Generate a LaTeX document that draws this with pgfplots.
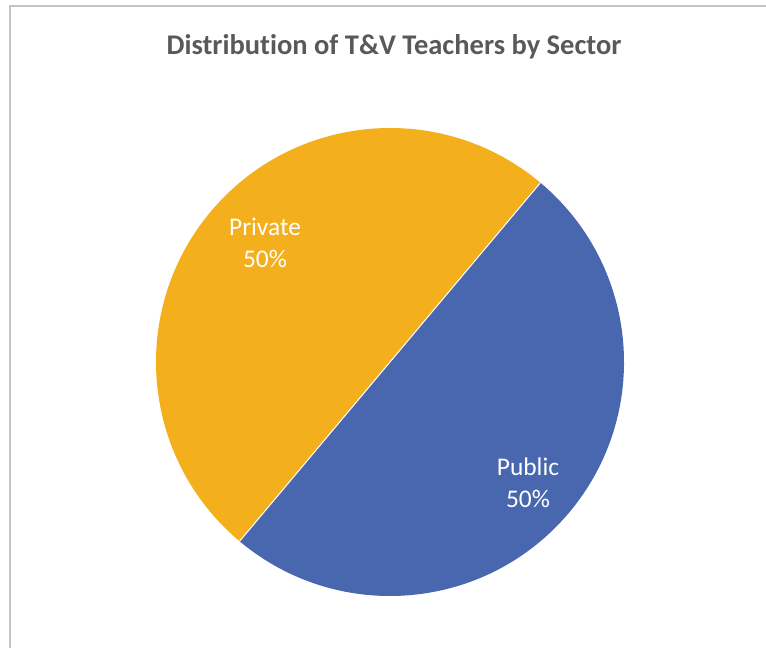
\documentclass[border=0pt]{standalone}
\usepackage{pgfplots}
\usepackage{pgfplotstable}
\usepackage{fontspec}
\pgfplotsset{compat=1.18}
\setmainfont[Ligatures=NoCommon]{Carlito}

\definecolor{privcol}{HTML}{F4AF1C}
\definecolor{pubcol}{HTML}{4867AE}
\definecolor{titlegray}{HTML}{595959}
\definecolor{framegray}{HTML}{C4C4C4}

% sector share (percent)
\pgfplotstableread{
label   value
Private 50
Public  50
}\sectors

\begin{document}
\begin{tikzpicture}
\pgfplotstablegetelem{0}{value}\of\sectors
\pgfmathsetmacro{\vpriv}{\pgfplotsretval}
\pgfplotstablegetelem{1}{value}\of\sectors
\pgfmathsetmacro{\vpub}{\pgfplotsretval}
\pgfmathsetmacro{\astart}{50}
\pgfmathsetmacro{\amid}{\astart+360*(\vpriv/(\vpriv+\vpub))}
\pgfmathsetmacro{\aend}{\astart+360}
\begin{axis}[
    width=766bp, height=651bp, scale only axis,
    xmin=0, xmax=766, ymin=0, ymax=651,
    hide axis, clip=false,
    /pgf/number format/assume math mode=true,
]
% frame
\draw[framegray, line width=1.2bp] (axis cs:10,3) -- (axis cs:10,645) -- (axis cs:766,645);

% wedges
\fill[privcol] (axis cs:390,289) -- ++(\astart:234bp) arc[start angle=\astart, end angle=\amid, radius=234bp] -- cycle;
\fill[pubcol] (axis cs:390,289) -- ++(\amid:234bp) arc[start angle=\amid, end angle=\aend, radius=234bp] -- cycle;
\draw[white, line width=1bp] (axis cs:390,289) -- ++(\astart:234bp);
\draw[white, line width=1bp] (axis cs:390,289) -- ++(\amid:234bp);

% title
\node[font=\fontsize{28.6}{32}\selectfont\bfseries, text=titlegray] at (axis cs:394,604) {Distribution of T\&V Teachers by Sector};

% labels
\node[font=\fontsize{25.5}{32}\selectfont, text=white, align=center] at (axis cs:265,408) {Private\\\pgfmathprintnumber[assume math mode=true]{\vpriv}\%};
\node[font=\fontsize{25.5}{32}\selectfont, text=white, align=center] at (axis cs:528,168) {Public\\\pgfmathprintnumber[assume math mode=true]{\vpub}\%};
\end{axis}
\pgfresetboundingbox
\useasboundingbox (0,0) rectangle (766bp,651bp);
\end{tikzpicture}
\end{document}
